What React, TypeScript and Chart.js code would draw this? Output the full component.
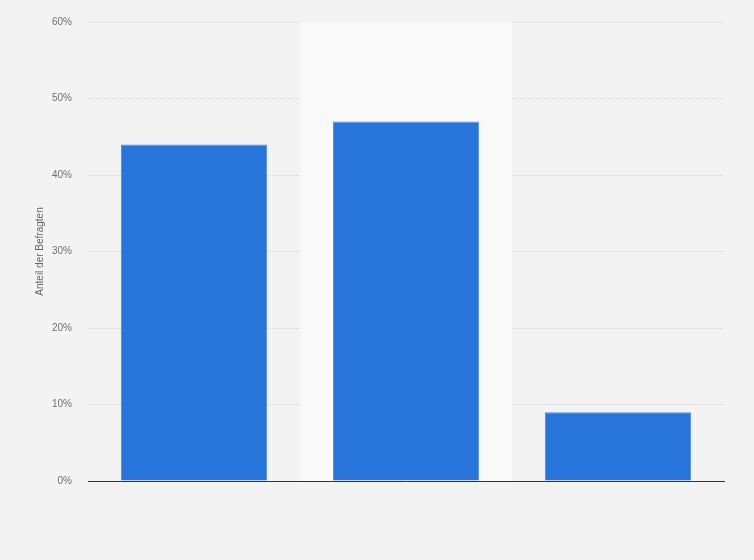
import { useRef, useEffect } from 'react'
import { Chart, registerables } from 'chart.js'
import type { Plugin } from 'chart.js'

Chart.register(...registerables)

const categories = ['Antwort 1', 'Antwort 2', 'Antwort 3']
const shares = [44, 47, 9]
const yTicks = [0, 10, 20, 30, 40, 50, 60]

const FONT = '"Liberation Sans", Arial, sans-serif'

// lighter band behind every second category
const bandPlugin: Plugin<'bar'> = {
  id: 'bands',
  beforeDatasetsDraw(chart) {
    const { ctx, chartArea, scales } = chart
    const x = scales.x
    const step = (chartArea.right - chartArea.left) / categories.length
    ctx.save()
    ctx.fillStyle = '#f9f9f9'
    categories.forEach((_, i) => {
      if (i % 2 !== 1) return
      const cx = x.getPixelForValue(i)
      ctx.fillRect(cx - step / 2, chartArea.top, step, chartArea.bottom - chartArea.top)
    })
    ctx.restore()
  },
}

export default function App() {
  const canvasRef = useRef<HTMLCanvasElement>(null)
  const chartRef = useRef<Chart | null>(null)

  useEffect(() => {
    if (!canvasRef.current) return
    chartRef.current?.destroy()

    chartRef.current = new Chart(canvasRef.current, {
      type: 'bar',
      data: {
        labels: categories,
        datasets: [
          {
            data: shares,
            backgroundColor: '#2775da',
            borderColor: '#4c8ce3',
            borderWidth: { top: 1, left: 1, right: 1, bottom: 0 },
            barPercentage: 0.69,
            categoryPercentage: 1,
          },
        ],
      },
      plugins: [bandPlugin],
      options: {
        responsive: false,
        animation: false,
        layout: { padding: { left: 34, right: 30, top: 16, bottom: 79 } },
        plugins: {
          legend: { display: false },
          tooltip: { enabled: false },
        },
        scales: {
          x: {
            grid: { display: false },
            ticks: { display: false },
            border: { color: '#333', width: 1 },
            afterFit: (s) => {
              s.height = 0
            },
          },
          y: {
            min: 0,
            max: 60,
            afterBuildTicks: (s) => {
              s.ticks = yTicks.map((v) => ({ value: v }))
            },
            afterFit: (s) => {
              s.width = 54
            },
            border: { display: false, dash: [1, 1] },
            grid: {
              drawTicks: false,
              color: (c) => (c.tick && c.tick.value === 0 ? 'rgba(0,0,0,0)' : '#d6d6d6'),
            },
            ticks: {
              color: '#707070',
              padding: 16,
              font: { family: FONT, size: 10 },
              callback: (v) => v + '%',
            },
            title: {
              display: true,
              text: 'Anteil der Befragten',
              color: '#666',
              font: { family: FONT, size: 10 },
              padding: 0,
            },
          },
        },
      },
    })

    return () => {
      chartRef.current?.destroy()
      chartRef.current = null
    }
  }, [])

  return (
    <div
      style={{
        position: 'fixed',
        left: 0,
        top: 0,
        width: 754,
        height: 560,
        background: '#f3f3f3',
      }}
    >
      <canvas ref={canvasRef} width={754} height={560} />
    </div>
  )
}
